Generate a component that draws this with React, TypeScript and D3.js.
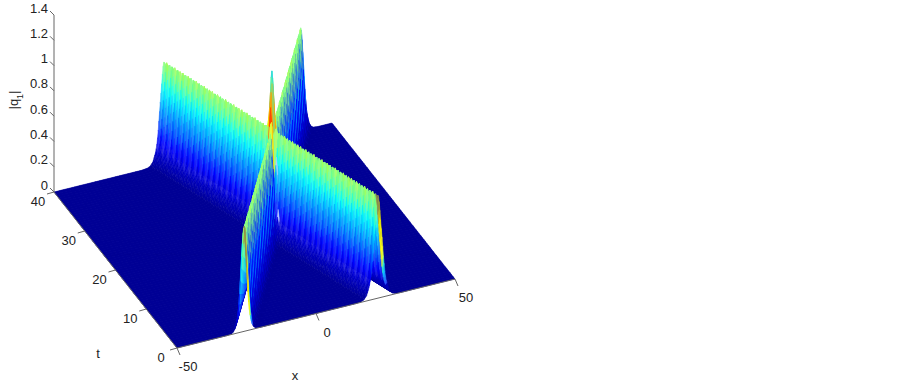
import React, { useEffect, useRef } from 'react'
import * as d3 from 'd3'

// values
const zTicks = [0, 0.2, 0.4, 0.6, 0.8, 1, 1.2, 1.4]
const tTicks = [0, 10, 20, 30, 40]
const xTicks = [-50, 0, 50]

// ridge tracks: x position of each soliton at the t values
const trackT = [0, 40]
const ridgeAx = [22.3, -10.4]
const ridgeBx = [-26, 38.8]
const ridgeHeight = 0.82
const ridgeBNarrow = 1.35
const collisionTop = 1.32

// soliton cross section: distance from the crest -> height
const profileDist = [0, 0.25, 0.5, 1, 1.5, 2, 2.5, 3, 4, 5, 6, 8, 50]
const profileZ = [0.82, 0.8, 0.75, 0.6, 0.46, 0.31, 0.19, 0.12, 0.045, 0.015, 0.005, 0, 0]

// jet stops as height, the colour axis runs past the tallest point
const colorStops = [0, 0.27, 0.68, 0.92, 1.45, 1.8]
const colorValues = ['#00008f', '#0000ff', '#00ffff', '#ffff00', '#ff0000', '#800000']

// colours seen on the collision spike, bottom to top
const spikeZ = [0.85, 0.98, 1.12, 1.24, 1.32]
const spikeColors = ['#ffff00', '#ff3000', '#ffa000', '#40ffc0', '#20a0ff']

// colours seen along the t = 0 edge of the mesh
const frontZ = [0.12, 0.3, 0.42, 0.7, 0.82]
const frontColors = ['#3050ff', '#00e0ff', '#ffff20', '#e8e800', '#8a8a50']

// the faint dotted line on the flank next to the crossing
const dotsT = [16.5, 18.5]
const dotsX = [5.3, 6.3]

const W = 903
const H = 384

const App = () => {
  const svgRef = useRef<SVGSVGElement>(null)

  useEffect(() => {
    const svg = d3.select(svgRef.current)
    svg.selectAll('*').remove()

    // projection, from the axis corners in the picture
    const fx = d3.scaleLinear().domain([-50, 50]).range([0, 1])
    const ft = d3.scaleLinear().domain([0, 40]).range([0, 1])
    const fz = d3.scaleLinear().domain([0, 1.4]).range([0, 177])
    const px = (x, t) => 177 + 278 * fx(x) - 123 * ft(t)
    const py = (x, t, z) => 348 - 69 * fx(x) - 156 * ft(t) - fz(z)

    const trackA = d3.scaleLinear().domain(trackT).range(ridgeAx)
    const trackB = d3.scaleLinear().domain(trackT).range(ridgeBx)
    const dots = d3.scaleLinear().domain(dotsT).range(dotsX)
    const section = d3.scaleLinear().domain(profileDist).range(profileZ).clamp(true)

    const parts = (x, t) => [section(Math.abs(x - trackA(t))), section(Math.abs(x - trackB(t)) * ridgeBNarrow)]
    const height = (x, t) => {
      const [a, b] = parts(x, t)
      const overlap = Math.min(a, b) / ridgeHeight
      return Math.max(a, b) + (collisionTop - ridgeHeight) * overlap * overlap
    }

    const jet = d3.scaleLinear<string>().domain(colorStops).range(colorValues)
    // 64 levels like a matlab colormap
    const level = d3.scaleQuantize<string>().domain([0, 1.8]).range(d3.range(64).map(i => jet((i + 0.5) / 64 * 1.8)))
    const spike = d3.scaleLinear<string>().domain(spikeZ).range(spikeColors).clamp(true)
    const front = d3.scaleLinear<string>().domain(frontZ).range(frontColors).clamp(true)

    const xs = d3.range(-50, 50.01, 0.25)
    const ts = d3.range(0, 40.01, 0.5)

    const surface = svg.append('g')
    let run = ''
    let runColor = ''
    const flush = () => {
      if (!run) return
      surface.append('path').attr('d', run).attr('fill', runColor).attr('stroke', runColor).attr('stroke-width', 0.5)
      run = ''
    }
    // far corner first so nearer cells paint over
    for (let j = ts.length - 2; j >= 0; j--) {
      for (let i = xs.length - 2; i >= 0; i--) {
        const cell = [[xs[i], ts[j]], [xs[i + 1], ts[j]], [xs[i + 1], ts[j + 1]], [xs[i], ts[j + 1]]]
        const zs = cell.map(d => height(d[0], d[1]))
        const z = d3.max(zs)
        const cx = xs[i] + 0.125
        const ct = ts[j] + 0.25
        const [a, b] = parts(cx, ct)
        const offA = cx - trackA(ct)
        const offB = cx - trackB(ct)
        let c = level(z)
        if (a > 0.35 && b > 0.35 && z > 0.85) {
          c = spike(z)
        } else if (j === 0 && z > 0.12 && (b > a ? offB > -0.4 : offA > -0.4)) {
          c = front(z)
        } else if (b > a && offB > 0.5 && z < 0.8) {
          // right flank of the narrow ridge stays dark apart from thin light lines
          const onLine = Math.floor(offB / 0.6) % 2 === 0 && j % 2 === 1
          c = onLine ? level(z * 0.95) : level(z * 0.5)
        } else if (z > 0.15 && j % 2 === 1) {
          // mesh lines leave lighter stripes on the flanks
          c = d3.interpolateRgb(c, '#fff')(0.12)
        }
        if (ct > dotsT[0] && ct < dotsT[1] && Math.abs(cx - dots(ct)) < 0.2 && i % 2 === 0) {
          c = '#b8c8ff'
        }
        if (c !== runColor) {
          flush()
          runColor = c
        }
        run += d3.line()(cell.map((d, k) => [+px(d[0], d[1]).toFixed(1), +py(d[0], d[1], zs[k]).toFixed(1)])) + 'Z'
      }
    }
    flush()

    const axes = svg.append('g').attr('stroke', '#666').attr('stroke-width', 1).attr('fill', 'none')
    const x0 = px(-50, 40)
    const y0 = py(-50, 40, 0)
    axes.append('line').attr('x1', x0).attr('y1', y0).attr('x2', x0).attr('y2', py(-50, 40, 1.4))
    axes.append('line').attr('x1', x0).attr('y1', y0).attr('x2', px(-50, 0)).attr('y2', py(-50, 0, 0))
    axes.append('line').attr('x1', px(-50, 0)).attr('y1', py(-50, 0, 0)).attr('x2', px(50, 0)).attr('y2', py(50, 0, 0))

    const label = (x, y, s, anchor = 'middle') =>
      svg.append('text').attr('x', x).attr('y', y).attr('text-anchor', anchor)
        .attr('font-family', 'Liberation Sans, Arial, sans-serif').attr('font-size', 13).attr('fill', '#222')
        .text(s)

    zTicks.forEach(z => {
      const y = py(-50, 40, z)
      axes.append('line').attr('x1', x0).attr('y1', y).attr('x2', x0 - 4).attr('y2', y - 4)
      label(x0 - 6, y - 2.5, String(z), 'end')
    })
    tTicks.forEach(t => {
      const xt = px(-50, t)
      const yt = py(-50, t, 0)
      axes.append('line').attr('x1', xt).attr('y1', yt).attr('x2', xt - 7).attr('y2', yt + 2)
      label(xt - 16, yt + 14, String(t))
    })
    xTicks.forEach(x => {
      const xt = px(x, 0)
      const yt = py(x, 0, 0)
      axes.append('line').attr('x1', xt).attr('y1', yt).attr('x2', xt + 3).attr('y2', yt + 7)
      label(xt + 11, yt + 23, String(x))
    })

    label(295, 380, 'x')
    label(98, 358, 't')

    const q = label(0, 0, '|q').attr('transform', 'translate(18,100) rotate(-90)')
    q.append('tspan').attr('baseline-shift', 'sub').attr('font-size', 9).text('1')
    q.append('tspan').text('|')
  }, [])

  return <svg ref={svgRef} width={W} height={H} style={{ position: 'absolute', left: 0, top: 0 }} />
}

export default App
